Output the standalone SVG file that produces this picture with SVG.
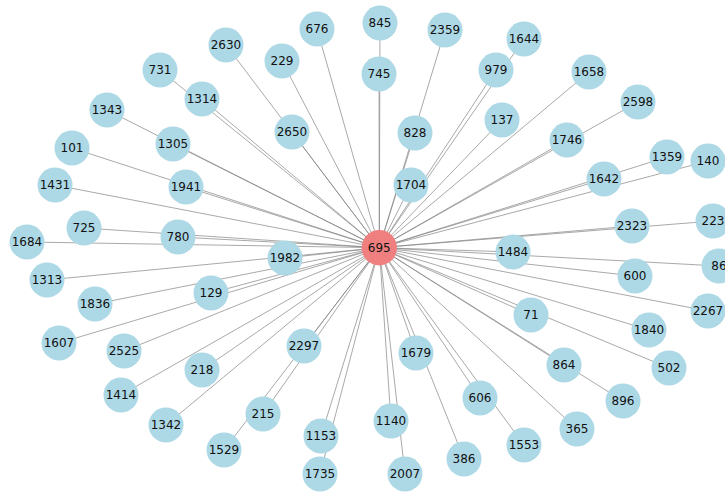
<svg xmlns="http://www.w3.org/2000/svg" width="725" height="493" viewBox="0 0 725 493">
<style>
.e line{stroke:#808080;stroke-width:0.8;stroke-opacity:0.85}
.n circle{fill:#ADD8E6}
.c circle{fill:#F08080}
text{font-family:"DejaVu Sans","Liberation Sans",sans-serif;font-size:12px;fill:#111;text-anchor:middle}
</style>
<rect width="725" height="493" fill="#fff"/>
<g id="edges" class="e">
<line x1="379.3" y1="247.7" x2="317" y2="29"/>
<line x1="379.3" y1="247.7" x2="226" y2="45"/>
<line x1="379.3" y1="247.7" x2="282" y2="61"/>
<line x1="379.3" y1="247.7" x2="160" y2="70"/>
<line x1="379.3" y1="247.7" x2="202" y2="99"/>
<line x1="379.3" y1="247.7" x2="107" y2="110"/>
<line x1="379.3" y1="247.7" x2="292" y2="132"/>
<line x1="379.3" y1="247.7" x2="72" y2="148"/>
<line x1="379.3" y1="247.7" x2="173" y2="144"/>
<line x1="379.3" y1="247.7" x2="55" y2="185"/>
<line x1="379.3" y1="247.7" x2="186" y2="187"/>
<line x1="379.3" y1="247.7" x2="84" y2="228"/>
<line x1="379.3" y1="247.7" x2="178" y2="237"/>
<line x1="379.3" y1="247.7" x2="27" y2="242"/>
<line x1="379.3" y1="247.7" x2="380" y2="23"/>
<line x1="379.3" y1="247.7" x2="379" y2="74"/>
<line x1="379.3" y1="247.7" x2="445" y2="30"/>
<line x1="379.3" y1="247.7" x2="524" y2="39"/>
<line x1="379.3" y1="247.7" x2="496" y2="70"/>
<line x1="379.3" y1="247.7" x2="589" y2="72"/>
<line x1="379.3" y1="247.7" x2="638" y2="102"/>
<line x1="379.3" y1="247.7" x2="502" y2="120"/>
<line x1="379.3" y1="247.7" x2="415" y2="133"/>
<line x1="379.3" y1="247.7" x2="567" y2="140"/>
<line x1="379.3" y1="247.7" x2="411" y2="185"/>
<line x1="379.3" y1="247.7" x2="667" y2="157"/>
<line x1="379.3" y1="247.7" x2="708" y2="161"/>
<line x1="379.3" y1="247.7" x2="604" y2="179"/>
<line x1="379.3" y1="247.7" x2="632" y2="226"/>
<line x1="379.3" y1="247.7" x2="713" y2="221"/>
<line x1="379.3" y1="247.7" x2="285" y2="258"/>
<line x1="379.3" y1="247.7" x2="47" y2="280"/>
<line x1="379.3" y1="247.7" x2="95" y2="304"/>
<line x1="379.3" y1="247.7" x2="211" y2="293"/>
<line x1="379.3" y1="247.7" x2="59" y2="343"/>
<line x1="379.3" y1="247.7" x2="124" y2="351"/>
<line x1="379.3" y1="247.7" x2="304" y2="346"/>
<line x1="379.3" y1="247.7" x2="202" y2="370"/>
<line x1="379.3" y1="247.7" x2="121" y2="395"/>
<line x1="379.3" y1="247.7" x2="263" y2="414"/>
<line x1="379.3" y1="247.7" x2="166" y2="425"/>
<line x1="379.3" y1="247.7" x2="321" y2="436"/>
<line x1="379.3" y1="247.7" x2="224" y2="450"/>
<line x1="379.3" y1="247.7" x2="320" y2="474"/>
<line x1="379.3" y1="247.7" x2="513" y2="252"/>
<line x1="379.3" y1="247.7" x2="635" y2="276"/>
<line x1="379.3" y1="247.7" x2="719" y2="266"/>
<line x1="379.3" y1="247.7" x2="531" y2="315"/>
<line x1="379.3" y1="247.7" x2="708" y2="311"/>
<line x1="379.3" y1="247.7" x2="649" y2="330"/>
<line x1="379.3" y1="247.7" x2="416" y2="353"/>
<line x1="379.3" y1="247.7" x2="564" y2="365"/>
<line x1="379.3" y1="247.7" x2="669" y2="368"/>
<line x1="379.3" y1="247.7" x2="480" y2="398"/>
<line x1="379.3" y1="247.7" x2="623" y2="401"/>
<line x1="379.3" y1="247.7" x2="391" y2="421"/>
<line x1="379.3" y1="247.7" x2="577" y2="429"/>
<line x1="379.3" y1="247.7" x2="524" y2="445"/>
<line x1="379.3" y1="247.7" x2="464" y2="459"/>
<line x1="379.3" y1="247.7" x2="405" y2="474"/>
</g>
<g id="n676" class="n"><circle cx="317" cy="29" r="17.5"/><text x="317" y="29" dy="0.36em">676</text></g>
<g id="n2630" class="n"><circle cx="226" cy="45" r="17.5"/><text x="226" y="45" dy="0.36em">2630</text></g>
<g id="n229" class="n"><circle cx="282" cy="61" r="17.5"/><text x="282" y="61" dy="0.36em">229</text></g>
<g id="n731" class="n"><circle cx="160" cy="70" r="17.5"/><text x="160" y="70" dy="0.36em">731</text></g>
<g id="n1314" class="n"><circle cx="202" cy="99" r="17.5"/><text x="202" y="99" dy="0.36em">1314</text></g>
<g id="n1343" class="n"><circle cx="107" cy="110" r="17.5"/><text x="107" y="110" dy="0.36em">1343</text></g>
<g id="n2650" class="n"><circle cx="292" cy="132" r="17.5"/><text x="292" y="132" dy="0.36em">2650</text></g>
<g id="n101" class="n"><circle cx="72" cy="148" r="17.5"/><text x="72" y="148" dy="0.36em">101</text></g>
<g id="n1305" class="n"><circle cx="173" cy="144" r="17.5"/><text x="173" y="144" dy="0.36em">1305</text></g>
<g id="n1431" class="n"><circle cx="55" cy="185" r="17.5"/><text x="55" y="185" dy="0.36em">1431</text></g>
<g id="n1941" class="n"><circle cx="186" cy="187" r="17.5"/><text x="186" y="187" dy="0.36em">1941</text></g>
<g id="n725" class="n"><circle cx="84" cy="228" r="17.5"/><text x="84" y="228" dy="0.36em">725</text></g>
<g id="n780" class="n"><circle cx="178" cy="237" r="17.5"/><text x="178" y="237" dy="0.36em">780</text></g>
<g id="n1684" class="n"><circle cx="27" cy="242" r="17.5"/><text x="27" y="242" dy="0.36em">1684</text></g>
<g id="n845" class="n"><circle cx="380" cy="23" r="17.5"/><text x="380" y="23" dy="0.36em">845</text></g>
<g id="n745" class="n"><circle cx="379" cy="74" r="17.5"/><text x="379" y="74" dy="0.36em">745</text></g>
<g id="n2359" class="n"><circle cx="445" cy="30" r="17.5"/><text x="445" y="30" dy="0.36em">2359</text></g>
<g id="n1644" class="n"><circle cx="524" cy="39" r="17.5"/><text x="524" y="39" dy="0.36em">1644</text></g>
<g id="n979" class="n"><circle cx="496" cy="70" r="17.5"/><text x="496" y="70" dy="0.36em">979</text></g>
<g id="n1658" class="n"><circle cx="589" cy="72" r="17.5"/><text x="589" y="72" dy="0.36em">1658</text></g>
<g id="n2598" class="n"><circle cx="638" cy="102" r="17.5"/><text x="638" y="102" dy="0.36em">2598</text></g>
<g id="n137" class="n"><circle cx="502" cy="120" r="17.5"/><text x="502" y="120" dy="0.36em">137</text></g>
<g id="n828" class="n"><circle cx="415" cy="133" r="17.5"/><text x="415" y="133" dy="0.36em">828</text></g>
<g id="n1746" class="n"><circle cx="567" cy="140" r="17.5"/><text x="567" y="140" dy="0.36em">1746</text></g>
<g id="n1704" class="n"><circle cx="411" cy="185" r="17.5"/><text x="411" y="185" dy="0.36em">1704</text></g>
<g id="n1359" class="n"><circle cx="667" cy="157" r="17.5"/><text x="667" y="157" dy="0.36em">1359</text></g>
<g id="n140" class="n"><circle cx="708" cy="161" r="17.5"/><text x="708" y="161" dy="0.36em">140</text></g>
<g id="n1642" class="n"><circle cx="604" cy="179" r="17.5"/><text x="604" y="179" dy="0.36em">1642</text></g>
<g id="n2323" class="n"><circle cx="632" cy="226" r="17.5"/><text x="632" y="226" dy="0.36em">2323</text></g>
<g id="n223" class="n"><circle cx="713" cy="221" r="17.5"/><text x="713" y="221" dy="0.36em">223</text></g>
<g id="n1982" class="n"><circle cx="285" cy="258" r="17.5"/><text x="285" y="258" dy="0.36em">1982</text></g>
<g id="n1313" class="n"><circle cx="47" cy="280" r="17.5"/><text x="47" y="280" dy="0.36em">1313</text></g>
<g id="n1836" class="n"><circle cx="95" cy="304" r="17.5"/><text x="95" y="304" dy="0.36em">1836</text></g>
<g id="n129" class="n"><circle cx="211" cy="293" r="17.5"/><text x="211" y="293" dy="0.36em">129</text></g>
<g id="n1607" class="n"><circle cx="59" cy="343" r="17.5"/><text x="59" y="343" dy="0.36em">1607</text></g>
<g id="n2525" class="n"><circle cx="124" cy="351" r="17.5"/><text x="124" y="351" dy="0.36em">2525</text></g>
<g id="n2297" class="n"><circle cx="304" cy="346" r="17.5"/><text x="304" y="346" dy="0.36em">2297</text></g>
<g id="n218" class="n"><circle cx="202" cy="370" r="17.5"/><text x="202" y="370" dy="0.36em">218</text></g>
<g id="n1414" class="n"><circle cx="121" cy="395" r="17.5"/><text x="121" y="395" dy="0.36em">1414</text></g>
<g id="n215" class="n"><circle cx="263" cy="414" r="17.5"/><text x="263" y="414" dy="0.36em">215</text></g>
<g id="n1342" class="n"><circle cx="166" cy="425" r="17.5"/><text x="166" y="425" dy="0.36em">1342</text></g>
<g id="n1153" class="n"><circle cx="321" cy="436" r="17.5"/><text x="321" y="436" dy="0.36em">1153</text></g>
<g id="n1529" class="n"><circle cx="224" cy="450" r="17.5"/><text x="224" y="450" dy="0.36em">1529</text></g>
<g id="n1735" class="n"><circle cx="320" cy="474" r="17.5"/><text x="320" y="474" dy="0.36em">1735</text></g>
<g id="n1484" class="n"><circle cx="513" cy="252" r="17.5"/><text x="513" y="252" dy="0.36em">1484</text></g>
<g id="n600" class="n"><circle cx="635" cy="276" r="17.5"/><text x="635" y="276" dy="0.36em">600</text></g>
<g id="n86" class="n"><circle cx="719" cy="266" r="17.5"/><text x="719" y="266" dy="0.36em">86</text></g>
<g id="n71" class="n"><circle cx="531" cy="315" r="17.5"/><text x="531" y="315" dy="0.36em">71</text></g>
<g id="n2267" class="n"><circle cx="708" cy="311" r="17.5"/><text x="708" y="311" dy="0.36em">2267</text></g>
<g id="n1840" class="n"><circle cx="649" cy="330" r="17.5"/><text x="649" y="330" dy="0.36em">1840</text></g>
<g id="n1679" class="n"><circle cx="416" cy="353" r="17.5"/><text x="416" y="353" dy="0.36em">1679</text></g>
<g id="n864" class="n"><circle cx="564" cy="365" r="17.5"/><text x="564" y="365" dy="0.36em">864</text></g>
<g id="n502" class="n"><circle cx="669" cy="368" r="17.5"/><text x="669" y="368" dy="0.36em">502</text></g>
<g id="n606" class="n"><circle cx="480" cy="398" r="17.5"/><text x="480" y="398" dy="0.36em">606</text></g>
<g id="n896" class="n"><circle cx="623" cy="401" r="17.5"/><text x="623" y="401" dy="0.36em">896</text></g>
<g id="n1140" class="n"><circle cx="391" cy="421" r="17.5"/><text x="391" y="421" dy="0.36em">1140</text></g>
<g id="n365" class="n"><circle cx="577" cy="429" r="17.5"/><text x="577" y="429" dy="0.36em">365</text></g>
<g id="n1553" class="n"><circle cx="524" cy="445" r="17.5"/><text x="524" y="445" dy="0.36em">1553</text></g>
<g id="n386" class="n"><circle cx="464" cy="459" r="17.5"/><text x="464" y="459" dy="0.36em">386</text></g>
<g id="n2007" class="n"><circle cx="405" cy="474" r="17.5"/><text x="405" y="474" dy="0.36em">2007</text></g>
<g id="n695" class="c"><circle cx="379.3" cy="247.7" r="17.7"/><text x="379.3" y="247.7" dy="0.36em">695</text></g>
</svg>
